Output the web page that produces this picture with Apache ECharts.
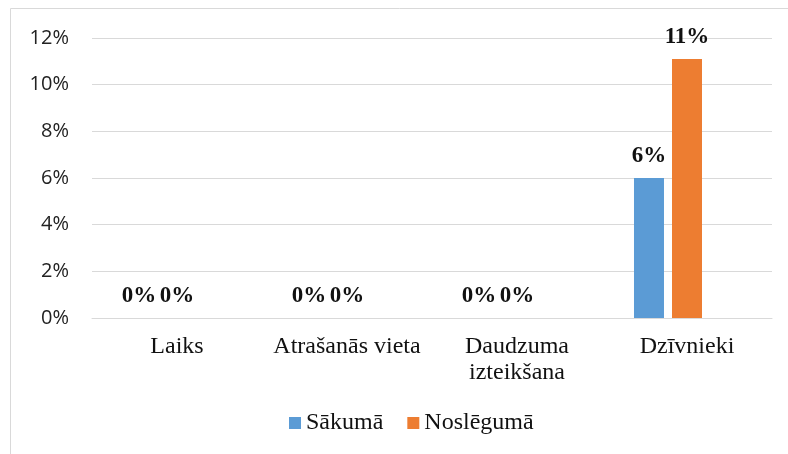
<!DOCTYPE html>
<html>
<head>
<meta charset="utf-8">
<script src="https://cdn.jsdelivr.net/npm/echarts@6/dist/echarts.min.js"></script>
<style>
html,body{margin:0;padding:0;background:#fff;}
#chart{width:788px;height:454px;}
</style>
</head>
<body>
<div id="chart"></div>
<script>
const categories = ['Laiks', 'Atrašanās vieta', 'Daudzuma\nizteikšana', 'Dzīvnieki'];
const seriesNames = ['Sākumā', 'Noslēgumā'];
const sakuma = [0, 0, 0, 6];
const nosleguma = [0, 0, 0, 11.1];
const hiddenThird = [null, null, null, null];
const yTicks = [0, 2, 4, 6, 8, 10, 12];

const chart = echarts.init(document.getElementById('chart'));
const serif = 'Liberation Serif';
const sans = 'Open Sans';
const legendText = { fontFamily: serif, fontSize: 24, color: '#111' };
const labelCfg = {
  show: true,
  position: 'top',
  distance: 10,
  fontFamily: serif,
  fontWeight: 'bold',
  fontSize: 23,
  color: '#111',
  formatter: p => Math.round(p.value) + '%'
};
chart.setOption({
  animation: false,
  textStyle: { fontFamily: serif },
  graphic: [{
    type: 'rect',
    shape: { x: 10.5, y: 8.5, width: 800, height: 500 },
    style: { fill: 'none', stroke: '#d9d9d9', lineWidth: 1 },
    silent: true
  }],
  grid: { left: 92, right: 16, top: 38, bottom: 136, containLabel: false },
  legend: {
    data: seriesNames.map(n => ({ name: n, textStyle: legendText })),
    bottom: 14,
    left: 284,
    itemWidth: 12,
    itemHeight: 12,
    itemGap: 24,
    icon: 'rect',
    textStyle: legendText
  },
  xAxis: {
    type: 'category',
    data: categories,
    axisLine: { show: true, lineStyle: { color: '#d9d9d9', width: 1 } },
    axisTick: { show: false },
    axisLabel: { fontFamily: serif, fontSize: 24, color: '#111', margin: 16, lineHeight: 26, interval: 0 }
  },
  yAxis: {
    type: 'value',
    min: yTicks[0],
    max: yTicks[yTicks.length - 1],
    interval: 2,
    axisLine: { show: false },
    axisTick: { show: false },
    splitLine: { lineStyle: { color: '#d9d9d9', width: 1 } },
    axisLabel: { fontFamily: sans, fontSize: 20, color: '#222', margin: 23, formatter: v => v + '%' }
  },
  series: [
    { name: seriesNames[0], type: 'bar', data: sakuma, barWidth: 30, barGap: '26.7%', itemStyle: { color: '#5b9bd5' }, label: labelCfg },
    { name: seriesNames[1], type: 'bar', data: nosleguma, barWidth: 30, barGap: '26.7%', itemStyle: { color: '#ed7d31' }, label: labelCfg },
    { name: 'hidden', type: 'bar', data: hiddenThird, barWidth: 30, barGap: '26.7%', itemStyle: { color: 'transparent' }, label: { show: false } }
  ]
});
</script>
</body>
</html>
